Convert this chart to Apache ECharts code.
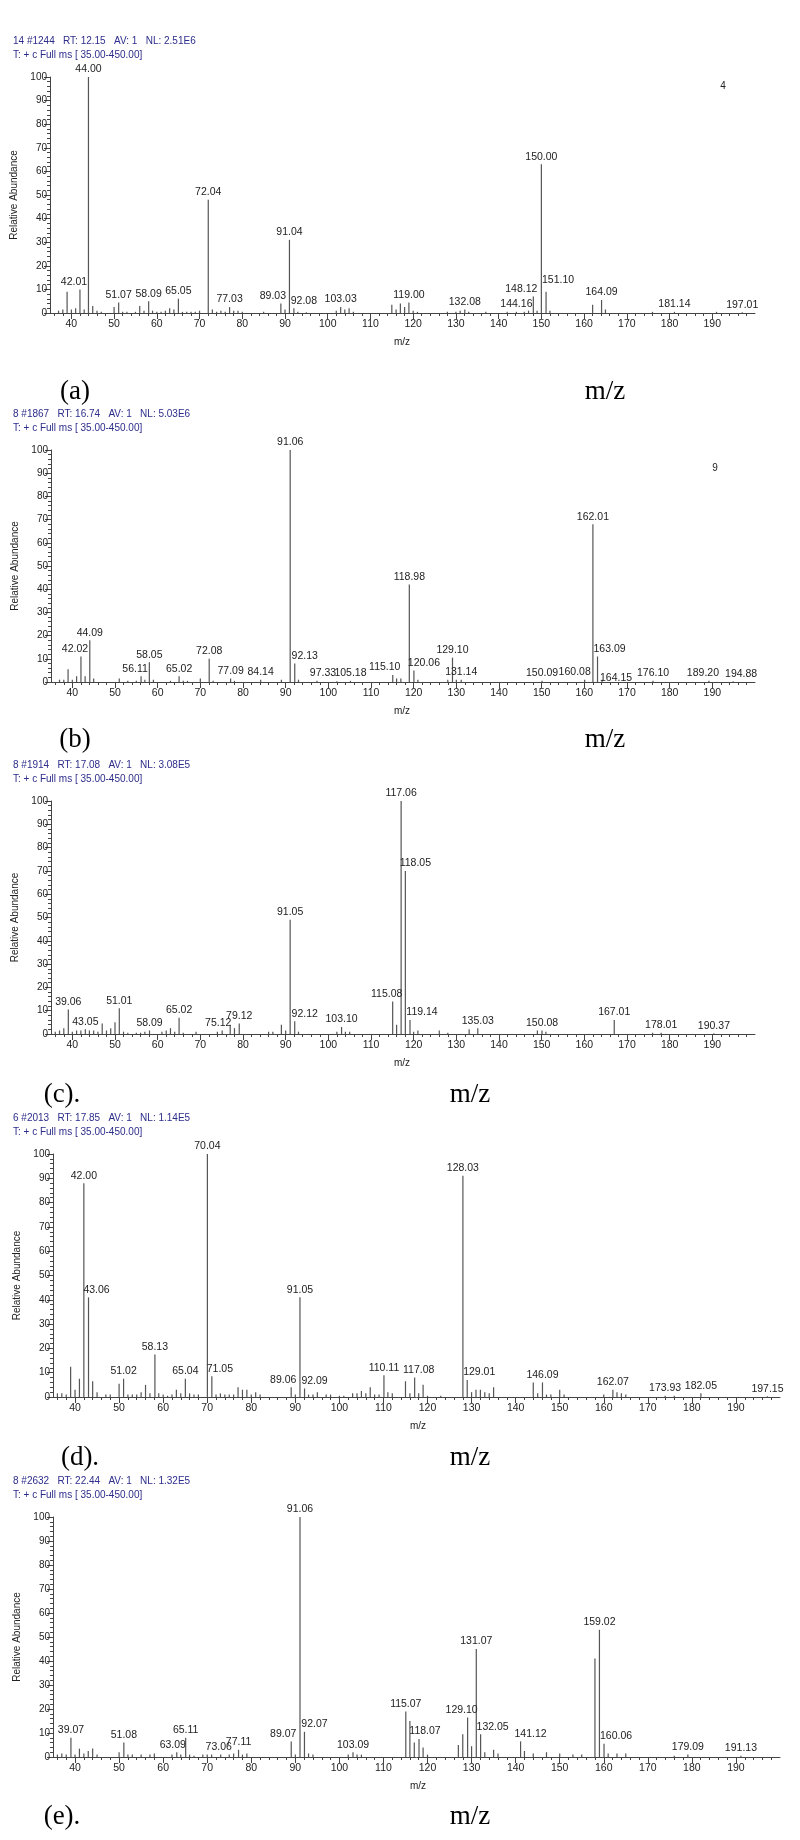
<!DOCTYPE html>
<html>
<head>
<meta charset="utf-8">
<script src="https://cdn.jsdelivr.net/npm/echarts@6/dist/echarts.min.js"></script>
<style>
  html, body { margin: 0; padding: 0; background: #fff; }
  #chart { width: 800px; height: 1840px; }
</style>
</head>
<body>
<div id="chart"></div>
<script>
// spectra: [m/z, relative abundance]
const peaksA = [[37,1],[38,1.5],[39,9],[40,1.5],[41,2],[42.01,10],[43,1.5],[44.00,100],[45,3],[46,1],[47,0.5],[50,2.5],[51.07,4.5],[52,0.5],[53,0.5],[55,0.5],[56,3],[57,1],[58.09,5],[59,1],[60,0.5],[61,0.5],[62,1],[63,2],[64,1.5],[65.05,6],[66,0.5],[67,0.5],[68,0.5],[69,0.5],[70,1],[72.04,48],[73,1.5],[74,0.5],[75,1],[76,0.5],[77.03,2.5],[78,1],[79,1],[80,0.5],[85,0.5],[89.03,4],[90,1.5],[91.04,31],[92.08,2],[93,0.5],[95,0.3],[102,1],[103.03,2.5],[104,1.5],[105,2],[106,0.5],[115,3.5],[116,1.5],[117,4],[118,2.5],[119.00,4.5],[120,1],[121,0.5],[128,0.5],[130,0.5],[131,1],[132.08,1.5],[133,0.5],[137,0.5],[142,0.5],[144.16,0.5],[146,0.5],[147,1],[148.12,7],[149,1],[150.00,63],[151.10,9],[152,1],[162,3.5],[164.09,5.5],[165,1.5],[176,0.5],[181.14,0.5],[191,0.5],[197.01,0.3]];
const labelsA = ['42.01','44.00','51.07','58.09','65.05','72.04','77.03','89.03','91.04','92.08','103.03','119.00','132.08','144.16','148.12','150.00','151.10','164.09','181.14','197.01'];

const peaksB = [[37,1],[38,1],[39,5.5],[40,1],[41,2.5],[42.02,11],[43,2.5],[44.09,18],[45,1.5],[51,1.5],[53,0.5],[55,0.5],[56.11,2.5],[57,1],[58.05,8.5],[59,1],[63,0.5],[65.02,2.5],[66,0.5],[67,0.5],[70,1.5],[72.08,10],[73,0.5],[77.09,1.5],[78,0.5],[84.14,1],[89,1],[91.06,100],[92.13,8],[93,1],[97.33,0.5],[102,0.3],[105.18,0.5],[115.10,3],[116,1.5],[117,1.5],[118.98,42],[120.06,5],[121,1],[128,1],[129.10,10.5],[130,1],[131.14,1],[150.09,0.5],[160.08,1],[162.01,68],[163.09,11],[164.15,1],[176.10,0.5],[189.20,0.5],[194.88,0.3]];
const labelsB = ['42.02','44.09','56.11','58.05','65.02','72.08','77.09','84.14','91.06','92.13','97.33','105.18','115.10','118.98','120.06','129.10','131.14','150.09','160.08','162.01','163.09','164.15','176.10','189.20','194.88'];

const peaksC = [[36,1],[37,1.5],[38,2.5],[39.06,10.5],[40,1],[41,1.5],[42,1.5],[43.05,2],[44,1.5],[45,1.5],[46,1],[47,4.5],[48,1.5],[49,2.5],[50,5],[51.01,11],[52,1],[53,0.5],[55,0.5],[56,0.5],[57,1],[58.09,1.5],[61,1],[62,1.5],[63,2.5],[64,1],[65.02,7],[66,0.5],[69,1],[74,1],[75.12,1.5],[77,4],[78,2.5],[79.12,4.5],[86,1],[87,1],[89,4],[90,1.5],[91.05,49],[92.12,5.5],[93,1],[102,1],[103.10,3],[104,1],[105,1],[115.08,14],[116,4],[117.06,100],[118.05,70],[119.14,6],[120,1],[121,1.5],[126,1.5],[128,0.5],[133,2],[135.03,2.5],[149,1.5],[150.08,1.5],[151,1],[167.01,6],[176,0.5],[178.01,0.5],[190.37,0.3]];
const labelsC = ['39.06','43.05','51.01','58.09','65.02','75.12','79.12','91.05','92.12','103.10','115.08','117.06','118.05','119.14','135.03','150.08','167.01','178.01','190.37'];

const peaksD = [[36,1.5],[37,1.5],[38,1],[39,12.5],[40,3],[41,7.5],[42.00,88],[43.06,41],[44,6.5],[45,2],[47,1],[48,1],[50,5.5],[51.02,7.5],[52,1],[53,1],[54,1],[55,2],[56,5],[57,1.5],[58.13,17.5],[59,1.5],[60,1],[61,0.5],[62,1],[63,3],[64,1.5],[65.04,7.5],[66,1.5],[67,1],[68,1],[70.04,100],[71.05,8.5],[72,1],[73,1.5],[74,1],[75,1],[76,1],[77,4],[78,3],[79,3],[80,1],[81,2],[82,1],[89.06,4],[90,1],[91.05,41],[92.09,3.5],[93,1],[94,1],[95,2],[97,1],[98,1],[100,0.5],[101,0.5],[103,1.5],[104,1.5],[105,2.5],[106,1.5],[107,4],[108,1],[109,1],[110.11,9],[111,2],[112,1.5],[115,6.5],[116,1.5],[117.08,8],[118,1.5],[119,5],[120,0.5],[123,0.5],[128.03,91],[129.01,7],[130,2],[131,3],[132,3],[133,2],[134,1.5],[135,4],[144,6],[145,1.5],[146.09,6],[147,1],[148,1],[150,3],[151,1],[160,1],[162.07,3],[163,2],[164,1.5],[165,1],[173.93,0.5],[176,0.5],[182.05,1.5],[197.15,0.3]];
const labelsD = ['42.00','43.06','51.02','58.13','65.04','70.04','71.05','89.06','91.05','92.09','110.11','117.08','128.03','129.01','146.09','162.07','173.93','182.05','197.15'];

const peaksE = [[36,1],[37,1.5],[38,1],[39.07,8],[40,1],[41,3.5],[42,1.5],[43,2.5],[44,3.5],[45,1],[50,2],[51.08,6],[52,1],[53,1],[55,1],[57,1],[58,1.5],[62,1],[63.09,2],[64,1],[65.11,8],[66,1],[67,0.5],[69,1],[70,1],[71,1],[73.06,1],[75,1],[76,1.5],[77.11,3],[78,1],[79,1.5],[89.07,6.5],[90,1],[91.06,100],[92.07,10.5],[93,1.5],[94,1],[102,1],[103.09,2],[104,1],[105,1],[115.07,19],[116,15],[117,6],[118.07,7.5],[119,4],[120,1],[127,5],[128,9.5],[129.10,16.5],[130,4.5],[131.07,45],[132.05,9.5],[133,2],[135,3],[136,1.5],[141.12,6.5],[142,2.5],[144,1.5],[147,2],[150,1.5],[153,1],[155,1],[158,41],[159.02,53],[160.06,5.5],[161,1.5],[163,1.5],[165,1.5],[176,0.5],[179.09,1],[191.13,0.5]];
const labelsE = ['39.07','51.08','63.09','65.11','73.06','77.11','89.07','91.06','92.07','103.09','115.07','118.07','129.10','131.07','132.05','141.12','159.02','160.06','179.09','191.13'];

const headers = [
  ['14 #1244   RT: 12.15   AV: 1   NL: 2.51E6', 'T: + c Full ms [ 35.00-450.00]'],
  ['8 #1867   RT: 16.74   AV: 1   NL: 5.03E6', 'T: + c Full ms [ 35.00-450.00]'],
  ['8 #1914   RT: 17.08   AV: 1   NL: 3.08E5', 'T: + c Full ms [ 35.00-450.00]'],
  ['6 #2013   RT: 17.85   AV: 1   NL: 1.14E5', 'T: + c Full ms [ 35.00-450.00]'],
  ['8 #2632   RT: 22.44   AV: 1   NL: 1.32E5', 'T: + c Full ms [ 35.00-450.00]']
];
const panelTags = ['(a)', '(b)', '(c).', '(d).', '(e).'];
const majorTicks = [40, 50, 60, 70, 80, 90, 100, 110, 120, 130, 140, 150, 160, 170, 180, 190];
const minorTicks = [];
for (let m = 36; m <= 198; m += 2) minorTicks.push(m);

// labels that sit beside their peak in the original (pixel nudges)
const labelShift = [
  { '42.01': [-6, 0], '148.12': [-12, 0], '151.10': [12, -4], '89.03': [-8, 0], '92.08': [10, 0] },
  { '42.02': [-6, 0], '56.11': [-6, 0], '92.13': [10, 0], '97.33': [6, 0], '115.10': [-8, 0], '120.06': [10, 0], '160.08': [-10, 0], '163.09': [12, 0], '164.15': [14, 6], '189.20': [-6, 0], '194.88': [8, 0] },
  { '92.12': [10, 0], '115.08': [-6, 0], '118.05': [10, 0], '119.14': [12, 0], '75.12': [-4, 0] },
  { '43.06': [8, 0], '71.05': [8, 0], '89.06': [-8, 0], '92.09': [10, 0], '117.08': [4, 0], '129.01': [12, 0] },
  { '63.09': [-4, 0], '73.06': [-2, 0], '89.07': [-8, 0], '92.07': [10, 0], '118.07': [6, 0], '129.10': [-6, 0], '132.05': [12, 0], '141.12': [10, 0], '160.06': [12, 0] }
];

const panels = [
  { peaks: peaksA, labels: labelsA, left: 50, width: 705, top: 77, height: 236, tagX: 75, tagY: 392, mzX: 605, smallMzX: 402, corner: ['4', 723, 86] },
  { peaks: peaksB, labels: labelsB, left: 51, width: 704, top: 450, height: 232, tagX: 75, tagY: 740, mzX: 605, smallMzX: 402, corner: ['9', 715, 468] },
  { peaks: peaksC, labels: labelsC, left: 51, width: 704, top: 801, height: 233, tagX: 62, tagY: 1095, mzX: 470, smallMzX: 402 },
  { peaks: peaksD, labels: labelsD, left: 53, width: 727, top: 1154, height: 243, tagX: 80, tagY: 1458, mzX: 470, smallMzX: 418 },
  { peaks: peaksE, labels: labelsE, left: 53, width: 727, top: 1517, height: 240, tagX: 62, tagY: 1817, mzX: 470, smallMzX: 418 }
];

const font = 'Liberation Sans, Arial, sans-serif';
const grid = [], xAxis = [], yAxis = [], series = [], graphic = [];

panels.forEach((p, i) => {
  grid.push({ left: p.left, top: p.top, width: p.width, height: p.height });
  xAxis.push({
    type: 'value', gridIndex: i, min: 35, max: 200,
    axisLine: { lineStyle: { color: '#444', width: 1 } },
    axisTick: { customValues: majorTicks, length: 6, lineStyle: { color: '#444' } },
    axisLabel: { customValues: majorTicks, color: '#222', fontSize: 10.5, fontFamily: font, margin: 6 },
    splitLine: { show: false }
  });
  xAxis.push({
    type: 'value', gridIndex: i, min: 35, max: 200, position: 'bottom',
    axisLine: { show: false },
    axisTick: { customValues: minorTicks, length: 3, lineStyle: { color: '#444' } },
    axisLabel: { show: false },
    splitLine: { show: false }
  });
  yAxis.push({
    type: 'value', gridIndex: i, min: 0, max: 100, interval: 10,
    name: 'Relative Abundance', nameLocation: 'middle', nameGap: 29,
    nameTextStyle: { fontSize: 10, color: '#222', fontFamily: font },
    axisLine: { show: true, lineStyle: { color: '#444' } },
    axisTick: { show: true, length: 6, lineStyle: { color: '#444' } },
    minorTick: { show: true, splitNumber: 5, length: 3, lineStyle: { color: '#444' } },
    axisLabel: { color: '#222', fontSize: 10, fontFamily: font, margin: 3 },
    splitLine: { show: false }
  });
  const shifts = labelShift[i];
  series.push({
    type: 'bar', xAxisIndex: i * 2, yAxisIndex: i, barWidth: 1.2,
    itemStyle: { color: '#555' },
    data: p.peaks.map(pk => {
      const key = pk[0].toFixed(2);
      const item = { value: pk };
      if (shifts[key]) item.label = { offset: shifts[key] };
      return item;
    }),
    label: {
      show: true, position: 'top', distance: 2, fontSize: 10.5, fontFamily: font, color: '#222',
      formatter: (d) => p.labels.includes(d.value[0].toFixed(2)) ? d.value[0].toFixed(2) : ''
    },
    animation: false
  });

  const h = headers[i];
  const titleY = p.top - 35;
  graphic.push({ type: 'text', left: 13, top: titleY - 6, style: { text: h[0], fill: '#2d2d8c', font: '10px ' + font } });
  graphic.push({ type: 'text', left: 13, top: titleY + 8, style: { text: h[1], fill: '#2d2d8c', font: '10px ' + font } });
  graphic.push({ type: 'text', x: p.smallMzX, y: p.top + p.height + 29, style: { text: 'm/z', fill: '#222', font: '10px ' + font, align: 'center', verticalAlign: 'middle' } });
  graphic.push({ type: 'text', x: p.tagX, y: p.tagY, style: { text: panelTags[i], fill: '#000', font: '27px Liberation Serif, Times New Roman, serif', align: 'center', verticalAlign: 'middle' } });
  graphic.push({ type: 'text', x: p.mzX, y: p.tagY, style: { text: 'm/z', fill: '#000', font: '27px Liberation Serif, Times New Roman, serif', align: 'center', verticalAlign: 'middle' } });
  if (p.corner) {
    graphic.push({ type: 'text', x: p.corner[1], y: p.corner[2], style: { text: p.corner[0], fill: '#222', font: '10px ' + font, align: 'center', verticalAlign: 'middle' } });
  }
});

const chart = echarts.init(document.getElementById('chart'));
chart.setOption({ animation: false, backgroundColor: '#fff', grid, xAxis, yAxis, series, graphic });
</script>
</body>
</html>
